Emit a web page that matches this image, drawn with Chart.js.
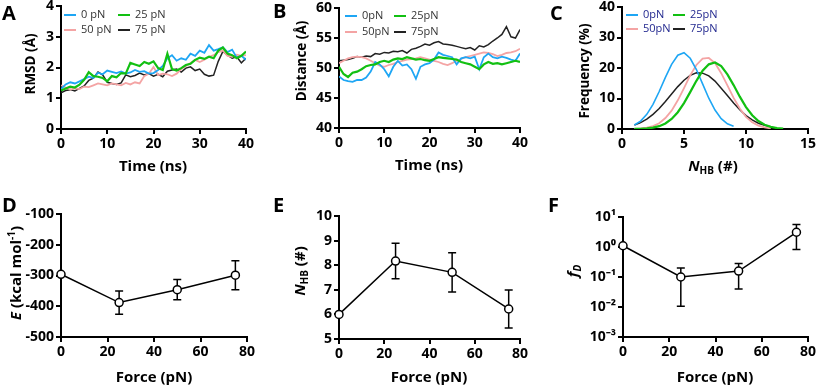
<!DOCTYPE html>
<html>
<head>
<meta charset="utf-8">
<script src="https://cdn.jsdelivr.net/npm/chart.js@4.4.1/dist/chart.umd.min.js"></script>
<style>
  body { margin: 0; width: 816px; height: 386px; position: relative; overflow: hidden; background: #fff; font-family: 'Open Sans', sans-serif; }
  canvas { position: absolute; }
  .letter { position: absolute; font-weight: bold; font-size: 20px; line-height: 1; }
  .ttl { position: absolute; font-weight: bold; font-size: 15px; white-space: nowrap; line-height: 1; transform: translate(-50%, -50%); }
  .ttl.v { transform: translate(-50%, -50%) rotate(-90deg); }
  .ttl.v.n { font-size: 13.5px; }
  .ttl sub { font-size: 10px; vertical-align: -3px; }
  .ttl sup { font-size: 10px; vertical-align: 6px; }
  .leg { position: absolute; font-size: 11px; color: #333; white-space: nowrap; line-height: 14px; }
  .leg span { display: inline-block; width: 12px; height: 2px; vertical-align: middle; margin-right: 5px; }
</style>
</head>
<body>
<canvas id="chartA" width="272" height="190" style="left:0;top:0"></canvas>
<canvas id="chartB" width="272" height="190" style="left:272px;top:0"></canvas>
<canvas id="chartC" width="272" height="190" style="left:544px;top:0"></canvas>
<canvas id="chartD" width="272" height="193" style="left:0;top:193px"></canvas>
<canvas id="chartE" width="272" height="193" style="left:272px;top:193px"></canvas>
<canvas id="chartF" width="272" height="193" style="left:544px;top:193px"></canvas>

<div class="letter" style="left:2px;top:3px">A</div>
<div class="letter" style="left:273px;top:1px">B</div>
<div class="letter" style="left:550px;top:3px">C</div>
<div class="letter" style="left:2px;top:195px">D</div>
<div class="letter" style="left:273px;top:195px">E</div>
<div class="letter" style="left:548px;top:195px">F</div>

<div class="ttl v n" style="left:31px;top:64px">RMSD (Å)</div>
<div class="ttl" style="left:153px;top:165px">Time (ns)</div>
<div class="ttl v n" style="left:302px;top:61px">Distance (Å)</div>
<div class="ttl" style="left:429px;top:164px">Time (ns)</div>
<div class="ttl v n" style="left:585px;top:71px">Frequency (%)</div>
<div class="ttl" style="left:713px;top:166px"><i>N</i><sub>HB</sub> (#)</div>
<div class="ttl v" style="left:14px;top:273px"><i>E</i> (kcal mol<sup>-1</sup>)</div>
<div class="ttl" style="left:154px;top:376px">Force (pN)</div>
<div class="ttl v" style="left:300px;top:271px"><i>N</i><sub>HB</sub> (#)</div>
<div class="ttl" style="left:429px;top:376px">Force (pN)</div>
<div class="ttl v" style="left:573px;top:271px"><i>f<sub>D</sub></i></div>
<div class="ttl" style="left:715px;top:376px">Force (pN)</div>

<script>
// ---- data ----
const timeNs = [0,1,2,3,4,5,6,7,8,9,10,11,12,13,14,15,16,17,18,19,20,21,22,23,24,25,26,27,28,29,30,31,32,33,34,35,36,37,38,39,40];

const rmsd0  = [1.30,1.45,1.52,1.48,1.55,1.62,1.70,1.66,1.83,1.78,1.90,1.86,1.82,1.87,1.80,1.84,1.92,1.86,1.88,1.80,1.82,1.92,2.05,2.30,2.40,2.22,2.30,2.25,2.45,2.38,2.55,2.48,2.73,2.55,2.60,2.66,2.50,2.58,2.32,2.38,2.25];
const rmsd25 = [1.25,1.32,1.38,1.35,1.44,1.60,1.85,1.72,1.70,1.66,1.55,1.72,1.68,1.82,1.80,2.15,2.10,2.05,2.18,2.12,2.20,1.98,1.92,2.45,1.95,1.90,1.98,2.08,2.12,2.25,2.32,2.28,2.35,2.30,2.55,2.65,2.45,2.40,2.30,2.38,2.52];
const rmsd50 = [1.42,1.35,1.28,1.32,1.30,1.38,1.36,1.42,1.48,1.45,1.42,1.48,1.45,1.42,1.50,1.45,1.52,1.48,1.72,1.80,2.02,1.75,1.80,1.78,1.72,1.80,1.95,2.05,2.15,2.25,2.18,2.25,2.35,2.40,2.50,2.55,2.38,2.35,2.42,2.38,2.40];
const rmsd75 = [1.18,1.25,1.28,1.24,1.32,1.40,1.58,1.65,1.85,1.76,1.52,1.48,1.45,1.50,1.76,1.70,1.74,1.82,1.76,1.80,1.72,1.78,1.70,1.88,1.92,1.95,1.85,1.98,2.02,1.90,1.95,1.78,1.72,1.75,2.20,2.52,2.40,2.30,2.35,2.15,2.30];

const dist0  = [48.6,48.0,47.8,47.7,48.0,48.0,48.4,49.4,51.0,50.6,49.8,48.6,50.2,51.2,50.4,50.6,49.8,48.2,50.2,50.6,50.8,51.4,52.6,52.2,52.0,51.8,50.6,51.6,51.8,51.6,51.9,49.8,51.8,52.4,51.8,51.6,51.9,51.7,51.4,51.2,52.4];
const dist25 = [50.2,49.0,48.5,49.2,49.4,49.8,50.3,50.5,50.6,51.0,51.2,51.0,51.4,51.6,51.5,51.8,51.6,51.4,51.5,51.3,51.2,51.5,51.8,51.7,51.6,51.5,51.4,51.0,50.8,50.6,50.2,49.8,50.6,51.0,50.7,50.8,50.6,50.8,51.0,51.2,51.0];
const dist50 = [50.8,51.2,51.6,51.8,51.9,51.8,51.6,51.2,50.8,50.4,50.2,50.5,50.7,51.0,51.2,51.4,51.5,51.6,51.8,51.6,51.4,51.2,51.0,50.7,50.5,50.8,51.2,51.5,51.8,52.0,52.2,52.4,52.6,52.5,52.3,52.0,52.2,52.5,52.6,52.8,53.2];
const dist75 = [51.2,51.3,51.4,51.6,51.9,51.8,52.0,51.9,52.4,52.3,52.6,52.5,52.8,52.7,52.9,52.5,53.1,53.3,53.6,54.0,53.8,54.2,54.4,54.0,53.9,53.8,53.6,53.4,53.2,53.4,53.0,53.7,53.5,53.9,54.5,55.0,55.6,56.9,55.2,55.0,56.4];

const nhbBins = [1,1.5,2,2.5,3,3.5,4,4.5,5,5.5,6,6.5,7,7.5,8,8.5,9,9.5,10,10.5,11,11.5,12,12.5,13];
const freq0  = [1.3,2.6,4.8,8.1,12.3,16.9,21.2,24.2,25.0,23.2,19.5,14.8,10.1,6.2,3.4,1.7,0.9];
const freq25 = [0.03,0.07,0.19,0.43,0.92,1.8,3.3,5.5,8.5,12.1,15.8,19.1,21.2,21.8,20.6,17.9,14.4,10.6,7.2,4.5,2.6,1.4,0.7,0.3,0.13];
const freq50 = [0.07,0.18,0.43,0.96,1.9,3.6,6.0,9.4,13.4,17.6,21.0,23.1,23.3,21.6,18.3,14.3,10.2,6.7,4.0,2.2,1.1,0.5,0.2];
const freq75 = [1.28,2.09,3.24,4.79,6.73,9.0,11.5,13.9,16.0,17.6,18.4,18.3,17.4,15.7,13.4,11.0,8.5,6.3,4.4,3.0,1.9,1.2,0.7];

const forcePN = [0,25,50,75];
const energyMean = [-296,-388,-346,-299];
const energyErr  = [0,38,33,47];
const hbMean = [6.0,8.17,7.71,6.22];
const hbErr  = [0,0.72,0.80,0.77];
const fdMean = [1.1,0.10,0.158,3.1];
const fdLow  = [1.1,0.0105,0.04,0.83];
const fdHigh = [1.1,0.20,0.28,5.6];
const fdTicks = [0.001,0.01,0.1,1,10];
const fdTickLabels = ['10\u207B\u00B3','10\u207B\u00B2','10\u207B\u00B9','10\u2070','10\u00B9'];

const labelsA = ['0 pN','25 pN','50 pN','75 pN'];
const labelsBC = ['0pN','25pN','50pN','75pN'];
const colors = ['#1ea6f4','#12c012','#f4a4a4','#222222'];

// ---- helpers ----
const axisFont = { family: "'Open Sans', sans-serif", size: 14, weight: 'bold' };

function frame(W, H, left, right, top, bottom) {
  return {
    padding: { left: 0, right: W - right, top: top, bottom: 0 },
    fitX: s => { s.height = H - bottom; s.paddingLeft = 0; s.paddingRight = 0; },
    fitY: s => { s.width = left; s.paddingTop = 0; s.paddingBottom = 0; }
  };
}

function scale(min, max, step, fit, extra) {
  return Object.assign({
    type: 'linear', min: min, max: max,
    ticks: { stepSize: step, color: '#000', font: axisFont, padding: 2, maxRotation: 0, autoSkip: false },
    grid: { drawOnChartArea: false, drawTicks: true, tickLength: 5, lineWidth: 2, tickWidth: 2, tickColor: '#000' },
    border: { color: '#000', width: 2 },
    afterFit: fit
  }, extra || {});
}

const errorBars = {
  id: 'errorBars',
  beforeDatasetsDraw(chart, args, opts) {
    if (!opts.low) return;
    const ctx = chart.ctx, xs = chart.scales.x, ys = chart.scales.y;
    ctx.save();
    ctx.strokeStyle = '#000';
    ctx.lineWidth = 1.5;
    forcePN.forEach((f, i) => {
      if (opts.low[i] === opts.high[i]) return;
      const px = xs.getPixelForValue(f);
      const top = ys.getPixelForValue(opts.high[i]);
      const bot = ys.getPixelForValue(opts.low[i]);
      ctx.beginPath();
      ctx.moveTo(px, top); ctx.lineTo(px, bot);
      ctx.moveTo(px - 4, top); ctx.lineTo(px + 4, top);
      ctx.moveTo(px - 4, bot); ctx.lineTo(px + 4, bot);
      ctx.stroke();
    });
    ctx.restore();
  }
};

function seriesSet(xs, list, widths) {
  const order = [1, 0, 2, 3];
  return list.map((vals, k) => ({
    data: vals.map((v, i) => ({ x: xs[i], y: v })),
    borderColor: colors[k],
    borderWidth: widths[k],
    pointRadius: 0,
    tension: 0,
    fill: false,
    order: order[k]
  }));
}

function baseOptions(fr, xScale, yScale, extraPlugins) {
  return {
    responsive: false,
    animation: false,
    layout: { padding: fr.padding },
    scales: { x: xScale, y: yScale },
    plugins: Object.assign({ legend: { display: false }, tooltip: { enabled: false } }, extraPlugins || {})
  };
}

function addLegend(labels, left, top, dx, dy, textColor) {
  labels.forEach((lab, k) => {
    const col = k % 2;          // 0,25 on first row; 50,75 on second
    const row = k < 2 ? 0 : 1;
    const d = document.createElement('div');
    d.className = 'leg';
    d.style.left = (left + col * dx) + 'px';
    d.style.top = (top + row * dy) + 'px';
    d.style.color = textColor;
    d.innerHTML = '<span style="background:' + colors[k] + '"></span>' + lab;
    document.body.appendChild(d);
  });
}

// ---- A: RMSD ----
const frA = frame(272, 190, 61, 246, 6, 129);
new Chart(document.getElementById('chartA'), {
  type: 'line',
  data: { datasets: seriesSet(timeNs, [rmsd0, rmsd25, rmsd50, rmsd75], [1.8, 2.2, 1.8, 1.5]) },
  options: baseOptions(frA, scale(0, 40, 10, frA.fitX), scale(0, 4, 1, frA.fitY))
});
addLegend(labelsA, 64, 7, 54, 15, '#333');

// ---- B: distance ----
const frB = frame(272, 190, 67, 248, 8, 128);
new Chart(document.getElementById('chartB'), {
  type: 'line',
  data: { datasets: seriesSet(timeNs, [dist0, dist25, dist50, dist75], [1.8, 2.2, 1.8, 1.5]) },
  options: baseOptions(frB, scale(0, 40, 10, frB.fitX), scale(40, 60, 5, frB.fitY))
});
addLegend(labelsBC, 345, 8, 49, 16, '#333');

// ---- C: H-bond distribution ----
const frC = frame(272, 190, 78, 264, 7, 129);
new Chart(document.getElementById('chartC'), {
  type: 'line',
  data: { datasets: seriesSet(nhbBins, [freq0, freq25, freq50, freq75], [1.6, 2.2, 1.8, 1.5]) },
  options: baseOptions(frC, scale(0, 15, 5, frC.fitX), scale(0, 40, 10, frC.fitY))
});
addLegend(labelsBC, 626, 7, 47, 14, '#22288f');

// ---- D, E, F: force dependence ----
function pointSet(vals) {
  return [{
    data: vals.map((v, i) => ({ x: forcePN[i], y: v })),
    borderColor: '#000', borderWidth: 1.5,
    pointRadius: 4, pointBorderWidth: 1.5, pointBackgroundColor: '#fff', pointBorderColor: '#000',
    tension: 0, fill: false, clip: false
  }];
}

const frD = frame(272, 193, 61, 247, 21, 144);
new Chart(document.getElementById('chartD'), {
  type: 'line',
  data: { datasets: pointSet(energyMean) },
  options: baseOptions(frD, scale(0, 80, 20, frD.fitX), scale(-500, -100, 100, frD.fitY),
    { errorBars: { low: energyMean.map((m, i) => m - energyErr[i]), high: energyMean.map((m, i) => m + energyErr[i]) } }),
  plugins: [errorBars]
});

const frE = frame(272, 193, 67, 248, 23, 146);
new Chart(document.getElementById('chartE'), {
  type: 'line',
  data: { datasets: pointSet(hbMean) },
  options: baseOptions(frE, scale(0, 80, 20, frE.fitX), scale(5, 10, 1, frE.fitY),
    { errorBars: { low: hbMean.map((m, i) => m - hbErr[i]), high: hbMean.map((m, i) => m + hbErr[i]) } }),
  plugins: [errorBars]
});

const frF = frame(272, 193, 79, 264, 24, 144);
const yF = scale(0.001, 10, null, frF.fitY, { type: 'logarithmic' });
yF.afterBuildTicks = s => { s.ticks = fdTicks.map(v => ({ value: v })); };
yF.ticks.callback = (v, i) => fdTickLabels[i];
new Chart(document.getElementById('chartF'), {
  type: 'line',
  data: { datasets: pointSet(fdMean) },
  options: baseOptions(frF, scale(0, 80, 20, frF.fitX), yF,
    { errorBars: { low: fdLow, high: fdHigh } }),
  plugins: [errorBars]
});
</script>
</body>
</html>
